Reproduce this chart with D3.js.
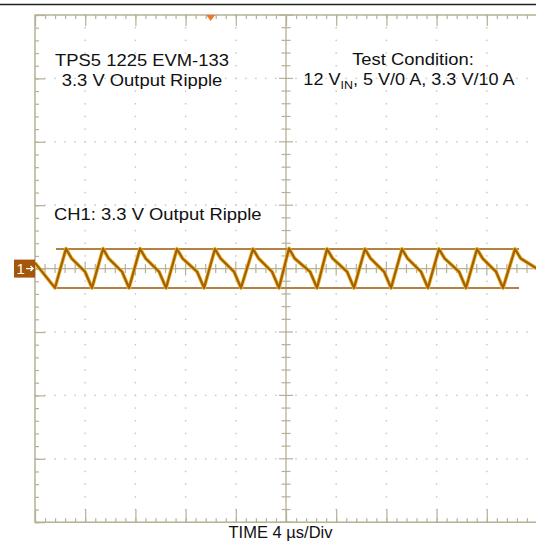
<!DOCTYPE html>
<html><head><meta charset="utf-8">
<script src="https://cdn.jsdelivr.net/npm/d3@7"></script>
<style>html,body{margin:0;padding:0;background:#fff;}svg{display:block;}</style>
</head><body>
<svg id="c" width="536" height="554"></svg>
<script>
// ---- data (time in µs, voltage in mV, 4 µs/div, 20 mV/div) ----
const timeDomain = [0, 40];
const voltDomain = [-80, 80];
const traceTime = [0, 1.59,
  2.47, 2.92, 3.99, 4.54,
  5.42, 5.87, 6.94, 7.49,
  8.37, 8.82, 9.89, 10.44,
  11.31, 11.76, 12.92, 13.47,
  14.34, 14.79, 15.86, 16.41,
  17.37, 17.82, 18.89, 19.44,
  20.24, 20.69, 21.92, 22.47,
  23.27, 23.72, 24.87, 25.42,
  26.29, 26.74, 27.82, 28.37,
  29.24, 29.69, 30.76, 31.31,
  32.19, 32.64, 33.79, 34.34,
  35.22, 35.67, 36.74, 37.29,
  38.25, 38.70, 40];
const traceMv = [1.8, -6.1,
  6.3, 3.2, -1.0, -6.1,
  6.3, 3.2, -1.0, -6.1,
  6.3, 3.2, -1.0, -6.1,
  6.2, 3.2, -1.0, -6.1,
  6.2, 3.2, -1.0, -6.1,
  6.2, 3.2, -1.0, -6.1,
  6.4, 3.2, -1.0, -6.1,
  6.2, 3.2, -1.0, -6.1,
  6.2, 3.2, -1.0, -6.1,
  6.2, 3.2, -1.0, -6.1,
  6.2, 3.2, -1.0, -6.1,
  6.2, 3.2, -1.0, -6.1,
  6.2, 3.2, 0.0];
const cursorMv = [6.2, -6.1];
const cursorTime = [1.67, 38.57];
const triggerTime = 14;
const titleLeft = ["TPS5 1225 EVM-133", "3.3 V Output Ripple"];
const titleRight = ["Test Condition:"];
const channelLabel = "CH1: 3.3 V Output Ripple";
const timeLabel = "TIME 4 µs/Div";

const svg = d3.select("#c");
const x = d3.scaleLinear().domain(timeDomain).range([35, 537]);
const y = d3.scaleLinear().domain(voltDomain).range([522.2, 15]);
const xMajor = d3.range(0, 41, 4), xMinor = d3.range(0, 40.01, 0.8);
const yMajor = d3.range(-80, 81, 20), yMinor = d3.range(-80, 80.01, 4);
const frameCol = "#b5b197", dotCol = "#c9c9c9";

// top page rule
svg.append("line").attr("x1",0).attr("x2",536).attr("y1",4.5).attr("y2",4.5)
  .attr("stroke","#222").attr("stroke-width",1.5);

// dotted graticule
const g = svg.append("g");
xMajor.filter(v => v>0 && v<40 && v!==20).forEach(xv => {
  yMinor.forEach(yv => g.append("rect").attr("x",x(xv)-0.75).attr("y",y(yv)-0.75)
    .attr("width",1.5).attr("height",1.5).attr("fill",dotCol));
});
yMajor.filter(v => v>-80 && v<80 && v!==0).forEach(yv => {
  xMinor.forEach(xv => g.append("rect").attr("x",x(xv)-0.75).attr("y",y(yv)-0.75)
    .attr("width",1.5).attr("height",1.5).attr("fill",dotCol));
});

// frame with inward ticks via d3 axes
function axisStyle(sel){ sel.select(".domain").remove();
  sel.selectAll("line").attr("stroke",frameCol).attr("stroke-width",1.2); sel.selectAll("text").remove(); }
svg.append("g").attr("transform",`translate(0,${y(-80)})`)
  .call(d3.axisTop(x).tickValues(xMinor).tickSize(4)).call(axisStyle);
svg.append("g").attr("transform",`translate(0,${y(-80)})`)
  .call(d3.axisTop(x).tickValues(xMajor).tickSize(13)).call(axisStyle);
svg.append("g").attr("transform",`translate(0,${y(80)})`)
  .call(d3.axisBottom(x).tickValues(xMinor).tickSize(4)).call(axisStyle);
svg.append("g").attr("transform",`translate(0,${y(80)})`)
  .call(d3.axisBottom(x).tickValues(xMajor).tickSize(11)).call(axisStyle);
svg.append("g").attr("transform",`translate(${x(0)},0)`)
  .call(d3.axisRight(y).tickValues(yMinor).tickSize(4)).call(axisStyle);
svg.append("g").attr("transform",`translate(${x(0)},0)`)
  .call(d3.axisRight(y).tickValues(yMajor).tickSize(10)).call(axisStyle);
svg.append("rect").attr("x",x(0)).attr("y",y(80)).attr("width",x(40)-x(0)).attr("height",y(-80)-y(80))
  .attr("fill","none").attr("stroke",frameCol).attr("stroke-width",1.5);

// center axes with cross ticks
svg.append("line").attr("x1",x(20)).attr("x2",x(20)).attr("y1",y(80)).attr("y2",y(-80))
  .attr("stroke",frameCol).attr("stroke-width",1.3);
svg.append("line").attr("x1",x(0)).attr("x2",x(40)).attr("y1",y(0)).attr("y2",y(0))
  .attr("stroke",frameCol).attr("stroke-width",1.3);
svg.append("g").selectAll("line").data(yMinor).join("line")
  .attr("x1",d=> x(20)-(d%20===0?7:4.5)).attr("x2",d=> x(20)+(d%20===0?7:4.5))
  .attr("y1",d=>y(d)).attr("y2",d=>y(d)).attr("stroke",frameCol).attr("stroke-width",1.2);
svg.append("g").selectAll("line").data(xMinor).join("line")
  .attr("y1",d=> y(0)-(Math.abs(d%4)<1e-6?7:4.5)).attr("y2",d=> y(0)+(Math.abs(d%4)<1e-6?7:4.5))
  .attr("x1",d=>x(d)).attr("x2",d=>x(d)).attr("stroke",frameCol).attr("stroke-width",1.2);

// texts
const font = "'Liberation Sans', Arial, sans-serif";
function stretched(cx, cy, anchor, size, sx){
  return svg.append("g").attr("transform",`translate(${cx},${cy}) scale(${sx},1)`)
    .append("text").attr("text-anchor",anchor).attr("font-family",font)
    .attr("font-size",size).attr("fill","#111");
}
stretched(142, 66, "middle", 16, 1.15).text(titleLeft[0]);
stretched(142, 86, "middle", 16, 1.15).text(titleLeft[1]);
stretched(413, 65, "middle", 16, 1.15).text(titleRight[0]);
const t2 = stretched(409, 85, "middle", 16, 1.13);
t2.append("tspan").text("12 V");
t2.append("tspan").attr("font-size",11).attr("dy",4).text("IN");
t2.append("tspan").attr("dy",-4).text(", 5 V/0 A, 3.3 V/10 A");
stretched(54, 220, "start", 16, 1.15).text(channelLabel);
stretched(280.5, 538, "middle", 16.5, 1.0).text(timeLabel);

// cursors
svg.append("g").selectAll("line").data(cursorMv).join("line")
  .attr("x1",x(cursorTime[0])).attr("x2",x(cursorTime[1]))
  .attr("y1",d=>y(d)).attr("y2",d=>y(d))
  .attr("stroke","#b48240").attr("stroke-width",2);

// trace
const pts = traceTime.map((t,i)=>[t, traceMv[i]]);
const line = d3.line().x(d=>x(d[0])).y(d=>y(d[1]));
svg.append("path").datum(pts).attr("d",line).attr("fill","none")
  .attr("stroke","#e6bd3c").attr("stroke-width",3.8).attr("stroke-linejoin","round");
svg.append("path").datum(pts).attr("d",line).attr("fill","none")
  .attr("stroke","#a85e02").attr("stroke-width",2.2).attr("stroke-linejoin","round");

// trigger position marker (top)
svg.append("path").attr("d",`M${x(triggerTime)-4.5},${y(80)} L${x(triggerTime)+4.5},${y(80)} L${x(triggerTime)},${y(80)+6} Z`)
  .attr("fill","#f07820");

// channel marker
const cm = svg.append("g").attr("transform",`translate(0,${y(0)})`);
cm.append("rect").attr("x",14).attr("y",-9).attr("width",21).attr("height",18).attr("fill","#a4560a");
cm.append("text").attr("x",16.5).attr("y",5.5).attr("font-family",font).attr("font-size",15)
  .attr("fill","#fff").text("1");
cm.append("path").attr("d","M26,0 L33,0 M30.5,-2.5 L33,0 L30.5,2.5").attr("stroke","#fff")
  .attr("stroke-width",1.4).attr("fill","none");
</script>
</body></html>
